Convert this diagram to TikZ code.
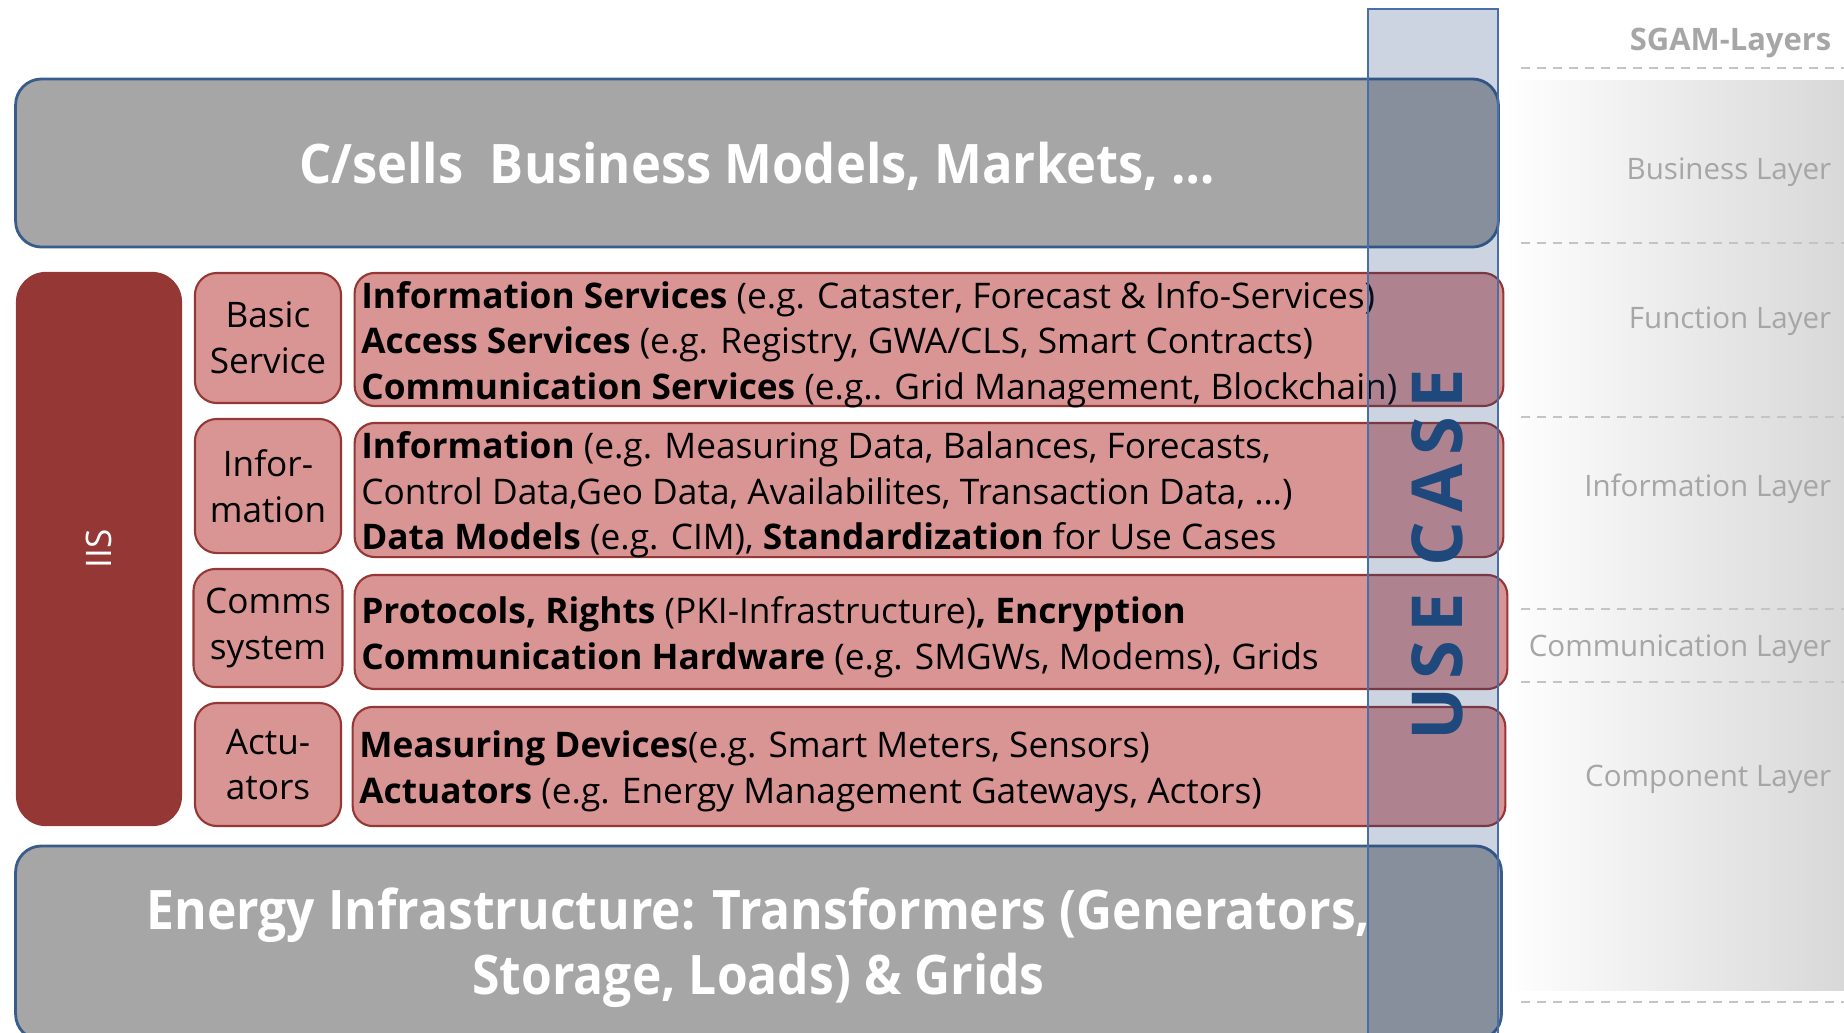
\documentclass[tikz,border=0pt]{standalone}
\usepackage{fontspec}
\setmainfont{Open Sans}
\usetikzlibrary{positioning}
\definecolor{bizgray}{HTML}{A6A6A6}
\definecolor{bizline}{HTML}{385D8A}
\definecolor{iisred}{HTML}{953735}
\definecolor{pinkred}{HTML}{D99594}
\definecolor{ucblue}{HTML}{1F497D}
\definecolor{colblue}{RGB}{28,64,122}
\definecolor{colline}{HTML}{4A6FA5}
\definecolor{layergray}{HTML}{A6A6A6}
\definecolor{dashgray}{HTML}{C4C4C4}
\definecolor{panelgray}{HTML}{D8D8D8}
\tikzset{
  bizbox/.style={draw=bizline,line width=0.8pt,fill=bizgray,rounded corners=0.26cm},
  bigtext/.style={text=white,align=center,font=\fontsize{15.5}{18.5}\selectfont\bfseries},
  iisbox/.style={fill=iisred,rounded corners=0.3cm},
  tagbox/.style={draw=iisred,line width=0.6pt,fill=pinkred,rounded corners=0.22cm,
    minimum width=1.46cm,align=center,font=\fontsize{10}{13}\selectfont},
  descbox/.style={draw=iisred,line width=0.6pt,fill=pinkred,rounded corners=0.2cm},
  desctext/.style={anchor=west,align=left,inner sep=0pt,font=\fontsize{10.03}{13}\selectfont},
  layertext/.style={anchor=east,inner sep=0pt,text=layergray,font=\fontsize{8.4}{10}\selectfont},
  sgamline/.style={dashgray,line width=0.6pt,dash pattern=on 0.09cm off 0.07cm}
}
\begin{document}
\begin{tikzpicture}[x=0.01cm,y=-0.01cm]
  \path[use as bounding box] (0,0) rectangle (1844,1032);
  \clip (0,0) rectangle (1844,1032);

  % SGAM layers on the right
  \fill[left color=white,right color=panelgray] (1503,80) rectangle (1844,990);
  \foreach \y in {68,243,417,609,682,1002}
    \draw[sgamline] (1521,\y) -- (1844,\y);
  \node[layertext,text=layergray,font=\fontsize{8.8}{10}\selectfont\bfseries] (sgam) at (1832,43) {SGAM-Layers};
  \foreach \y/\t/\n in {172/Business Layer/business,321/Function Layer/function,489/Information Layer/information,649/Communication Layer/communication,779/Component Layer/component}
    \node[layertext] (lay-\n) at (1832,\y) {\t};

  % business
  \node[bizbox,minimum width=14.82cm,minimum height=1.68cm] (biz) at (757,163) {};
  \node[bigtext,xscale=0.93] (biz-text) at ([yshift=-0.035cm]biz.center) {C/sells\ \ Business Models, Markets, …};

  % IIS
  \node[iisbox,minimum width=1.66cm,minimum height=5.54cm] (iis) at (99,549) {};
  \node[text=white,rotate=90,font=\fontsize{10}{12}\selectfont] (iis-text) at (iis.center) {IIS};

  % tags
  \node[tagbox,minimum height=1.30cm] (basic) at (268,338) {Basic\\Service};
  \node[tagbox,minimum height=1.34cm] (infor) at (268,486) {Infor-\\mation};
  \node[tagbox,minimum height=1.18cm] (comms) at (268,628) {Comms\\system};
  \node[tagbox,minimum height=1.23cm] (actu) at (268,764.5) {Actu-\\ators};

  % descriptions
  \node[descbox,minimum width=11.48cm,minimum height=1.33cm] (fun) at (929,339.5) {};
  \node[descbox,minimum width=11.48cm,minimum height=1.34cm] (inf) at (929,490) {};
  \node[descbox,minimum width=11.52cm,minimum height=1.14cm] (com) at (931,632) {};
  \node[descbox,minimum width=11.52cm,minimum height=1.19cm] (cmp) at (929,766.5) {};
  \node[desctext] (fun-text) at ([xshift=0.07cm,yshift=-0.05cm]fun.west)
    {\textbf{Information Services} (e.g. Cataster, Forecast \& Info-Services)\\
     \textbf{Access Services} (e.g. Registry, GWA/CLS, Smart Contracts)\\
     \textbf{Communication Services} (e.g.. Grid Management, Blockchain)};
  \node[desctext] (inf-text) at ([xshift=0.07cm,yshift=-0.05cm]inf.west)
    {\textbf{Information} (e.g. Measuring Data, Balances, Forecasts,\\
     Control Data,Geo Data, Availabilites, Transaction Data, …)\\
     \textbf{Data Models} (e.g. CIM), \textbf{Standardization} for Use Cases};
  \node[desctext] (com-text) at ([xshift=0.07cm,yshift=-0.05cm]com.west)
    {\textbf{Protocols, Rights} (PKI-Infrastructure)\textbf{, Encryption}\\
     \textbf{Communication Hardware} (e.g. SMGWs, Modems), Grids};
  \node[desctext] (cmp-text) at ([xshift=0.07cm,yshift=-0.05cm]cmp.west)
    {\textbf{Measuring Devices}(e.g. Smart Meters, Sensors)\\
     \textbf{Actuators} (e.g. Energy Management Gateways, Actors)};

  % energy
  \node[bizbox,minimum width=14.85cm,minimum height=1.94cm] (energy) at (758.5,943) {};
  \node[bigtext,xscale=0.914] (energy-text) at ([yshift=-0.05cm]energy.center) {Energy Infrastructure: Transformers (Generators,\\Storage, Loads) \& Grids};

  % use case column
  \draw[colline,line width=0.3pt,fill=colblue,fill opacity=0.225] (1368,9) rectangle (1498,1040);
  \node[rotate=90,text=ucblue,font=\fontsize{20}{24}\selectfont\bfseries\addfontfeature{LetterSpace=12}] (usecase) at (1437,555) {USE CASE};
\end{tikzpicture}
\end{document}
